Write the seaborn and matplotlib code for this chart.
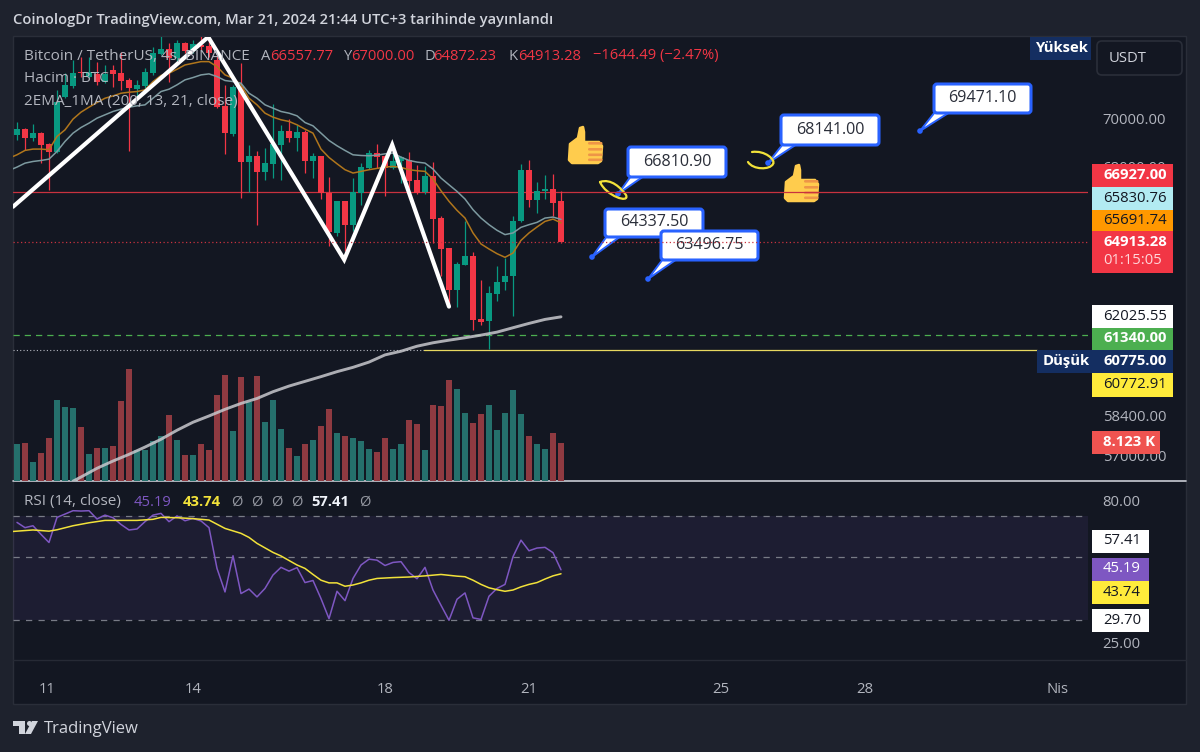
import numpy as np
import pandas as pd
import matplotlib
matplotlib.use('Agg')
import matplotlib.pyplot as plt
import seaborn as sns
from matplotlib.patches import FancyBboxPatch, Polygon, Rectangle, Circle, PathPatch
from matplotlib.path import Path

# 4h candles, oldest first
candle_open = [69322,69575,69168,69392,68930,68594,70960,71427,72053,71834,71936,71615,72126,72009,71689,71281,71427,71980,72835,73042,72641,73340,72984,73236,73206,72567,70560,69364,71398,68174,68440,67748,68104,68902,69490,69182,
               69421,68232,68411,66899,65286,66561,65604,66921,67928,68549,68411,67928,68204,68245,67445,66926,67611,65884,64691,63067,64037,64388,61947,61860,62915,63350,63584,65750,67832,66630,66980,67060,66557.77]
candle_high = [69888,69604,69775,69462,68972,71252,71980,72567,72716,72716,72492,72345,72345,72939,71761,71689,72199,73161,73682,73310,73459,73385,73459,73682,73608,72865,71471,71471,72418,68902,68622,68762,70645,69747,69990,69747,
               69534,68549,68411,67555,66561,66561,67514,68135,68690,68944,68480,68549,68411,68591,68066,67997,68163,65951,64691,64128,65776,64518,63454,63194,63974,64297,65951,68108,68246,67335,67652,67680,67000]
candle_low = [69112,68664,69042,68132,67007,68552,70888,71325,71834,71761,71471,71542,71398,71252,68622,70817,71324,71907,72790,71615,72492,72865,72865,73012,72716,70459,68524,69280,66693,66924,65617,67420,67515,67420,69000,68622,
              67721,67514,66669,64787,65154,64558,65354,66426,67886,67928,66791,67886,67307,66696,66872,66872,64890,63584,62430,62405,64011,61547,61710,60800,62647,63067,62049,65710,66336,66094,66656,65951,64872.23]
candle_close = [69575,69182,69392,68902,68594,70746,71471,72009,71980,72053,71615,71936,71951,71660,71324,71471,72053,72865,73042,72641,73340,72984,73266,73161,72865,70531,69392,71369,68174,68412,67748,68132,68944,69490,69182,69434,
                68232,68411,66899,65313,66561,65604,66939,67956,68549,68370,67928,68232,68384,67404,66899,67611,65856,64664,63042,64076,64388,61922,61835,62940,63376,63584,65763,67832,66630,66980,67060,66495,64913.28]
volume = [7766,8119,4095,5930,9107,17085,15744,15391,11508,5719,7060,7060,7484,16873,23651,6495,6495,8472,9602,13908,8754,5577,5577,7766,6495,18144,22451,10519,21957,16732,22310,12426,17085,11084,7060,5366,
          7907,8613,11720,15250,10237,9460,9107,8401,6707,6142,9178,6848,7907,12990,12073,6495,16167,15814,21392,19415,14473,12284,14120,16167,10872,14473,19344,14261,9531,7766,6848,10237,8123]
ema13 = [68340,68482,68664,68720,68720,68692,69252,69532,69990,70288,70503,70703,70889,70989,71106,71150,71179,71252,71615,71880,71980,72155,72345,72418,72492,72492,72272,71907,71761,71471,70889,70603,70245,70074,69961,69890,69747,
         69562,69393,68718,68370,68107,67859,67721,67790,67859,67914,67969,67997,67955,67859,67818,67790,67473,66993,66561,66195,65884,65287,64850,64650,64466,64323,64492,64993,65287,65525,65750,65843,65691.74]
ema21 = [67830,67968,68132,68202,68244,68300,68622,69042,69392,69632,69818,70031,70174,70317,70417,70503,70560,70603,70889,71179,71281,71471,71689,71790,71907,71951,71834,71660,71615,71542,71106,70889,70603,70460,70317,70245,70131,
         69844,69703,69393,69083,68859,68662,68480,68452,68439,68466,68521,68549,68383,68245,68176,68135,67887,67514,67238,66966,66655,66222,65884,65618,65393,65221,65287,65512,65618,65711,65884,65924,65830.76]
ma200_idx = [7,8,10,12,14,16,18,20,22,24,26,28,30,32,34,36,38,40,42,44,46,48,50,52,54,56,58,60,62,64,66,68]
ma200 = [56100,56242,56543,56795,57027,57281,57554,57873,58157,58380,58617,58829,59007,59252,59456,59628,59800,59982,60141,60334,60600,60736,60922,61050,61148,61238,61336,61449,61614,61777,61928,62025.55]
rsi = [66.6,63.8,64.8,60.4,56.5,69.4,71.3,73.3,73.1,73.3,68.5,70.7,69.2,65.5,62.6,63.1,67.0,70.7,71.7,67.0,70.2,67.5,68.8,67.4,63.8,45.7,37.7,50.7,37.2,38.6,36.2,38.8,43.3,46.1,44.7,46.0,
       40.7,41.4,35.7,30.3,37.9,35.1,42.1,47.0,49.3,48.9,46.8,48.0,48.3,44.2,42.0,46.1,38.3,33.8,29.9,35.5,37.4,30.5,30.1,36.4,38.8,40.1,50.3,57.6,52.8,54.0,54.3,52.0,45.19]
rsi_ma_idx = [-1,0,2,4,5,7,9,11,13,15,17,18,20,22,24,26,28,29,30,32,33,35,36,37,38,39,40,41,42,43,44,45,47,49,51,53,55,56,57,58,59,60,61,62,63,64,65,66,67,68]
rsi_ma = [61.7,62.0,62.6,62.0,62.7,64.8,66.4,67.7,67.7,67.7,68.3,69.4,69.2,68.7,67.9,63.4,60.9,58.9,56.1,52.1,50.6,47.0,45.7,43.5,41.5,40.6,40.6,39.5,39.9,40.6,41.5,42.1,42.4,42.6,43.0,43.5,42.9,42.7,41.5,40.1,39.0,38.4,37.9,38.3,39.3,40.1,40.7,41.9,43.0,43.74]
zigzag_idx = [-0.5,23.9,40.9,46.9,54]
zigzag = [66341,73591,64230,68898,62415]

day_ticks = [3.7,22,46,64,88,106,130]
day_labels = ['11','14','18','21','25','28','Nis']
price_ticks = [70000,68000,58400,57000]
rsi_ticks = [80,25]

BG = '#1e222d'
PANE = '#131722'
GREEN = '#089981'
RED = '#f23645'
TEXT = '#b2b5be'
FONT = 'Open Sans'
TICK = 10.7

sns.set_theme(style="dark", rc={'axes.grid': False})
plt.rcParams['font.family'] = [FONT, 'DejaVu Sans']

df = pd.DataFrame({'idx': np.arange(len(candle_open)), 'open': candle_open, 'high': candle_high,
                   'low': candle_low, 'close': candle_close, 'volume': volume})
df['side'] = np.where(df['close'] >= df['open'], 'up', 'down')


def px_axes(fig, x0, y0, x1, y1, zorder):
    # axes from pixel box, y measured from the top of the picture
    ax = fig.add_axes([x0 / 1200, 1 - y1 / 752, (x1 - x0) / 1200, (y1 - y0) / 752], zorder=zorder)
    ax.patch.set_alpha(0)
    for s in ax.spines.values():
        s.set_visible(False)
    return ax


fig = plt.figure(figsize=(12, 7.52), dpi=100, facecolor=BG)
xlim = (-0.5, 133.875)

# full picture layers for the drawing tools and the labels, in pixels
under = px_axes(fig, 0, 0, 1200, 752, 0)
under.set_xlim(0, 1200)
under.set_ylim(752, 0)
under.axis('off')
top = px_axes(fig, 0, 0, 1200, 752, 10)
top.set_xlim(0, 1200)
top.set_ylim(752, 0)
top.axis('off')

under.add_patch(Rectangle((13, 36), 1173, 668, fc=PANE, ec='#2a2e39', lw=1))
under.plot([13, 1186], [481, 481], color='#c9ccd4', lw=1.2)
under.plot([13, 1186], [660, 660], color='#262a35', lw=1)

# volume pane, hue would widen the bars so they get recoloured afterwards
ax_vol = px_axes(fig, 13, 37, 1088, 481, 1)
sns.barplot(data=df, x='idx', y='volume', native_scale=True, width=0.8, color='#25706c',
            saturation=1, linewidth=0, edgecolor='none', ax=ax_vol)
for bar, side in zip(ax_vol.patches, df['side']):
    bar.set_facecolor('#25706c' if side == 'up' else '#8f3a41')
ax_vol.set_xlim(xlim)
ax_vol.set_ylim(0, 94000)
ax_vol.set_xticks([])
ax_vol.set_yticks([])
ax_vol.set_xlabel('')
ax_vol.set_ylabel('')

# price pane
ax = px_axes(fig, 13, 37, 1088, 481, 3)
ax.set_yscale('log')
ax.set_xlim(xlim)
ax.set_ylim(56106, 73591)

ax.axhline(66927, color='#c8323f', lw=0.9, zorder=1)
ax.axhline(64913.28, color='#c8323f', lw=0.9, ls=(0, (1, 2)), zorder=6)
ax.axhline(61340, color='#4caf50', lw=0.9, ls=(0, (5, 4)), zorder=1)
ax.plot([xlim[0], 50.9], [60775, 60775], color='#b2b5be', lw=0.8, ls=(0, (1, 2)), zorder=1)
ax.plot([50.9, 127.5], [60772.91, 60772.91], color='#e8d860', lw=0.9, zorder=1)

colors = df['side'].map({'up': GREEN, 'down': RED})
ax.vlines(df['idx'], df['low'], df['high'], colors=colors, lw=0.9, zorder=2)
ax.bar(df['idx'], (df['close'] - df['open']).abs(), bottom=df[['open', 'close']].min(axis=1),
       width=0.76, color=colors, linewidth=0, edgecolor='none', zorder=3)

ema_idx = np.arange(-1, len(candle_open))
sns.lineplot(x=ema_idx, y=ema13, color='#b0761c', lw=1.1, ax=ax, zorder=4)
sns.lineplot(x=ema_idx, y=ema21, color='#7d9aa0', lw=1.1, ax=ax, zorder=4)
sns.lineplot(x=ma200_idx, y=ma200, color='#c8c8cd', lw=2.1, alpha=0.85, ax=ax, zorder=4)
sns.lineplot(x=zigzag_idx, y=zigzag, color='white', lw=3.0, ax=ax, zorder=5, solid_joinstyle='miter')

ax.set_xticks([])
ax.minorticks_off()
ax.yaxis.tick_right()
ax.set_yticks(price_ticks)
ax.set_yticklabels([f'{v:.2f}' for v in price_ticks])
ax.yaxis.set_minor_locator(matplotlib.ticker.NullLocator())
ax.tick_params(axis='y', length=0, pad=10.5, labelsize=TICK, labelcolor=TEXT)
ax.set_xlabel('')
ax.set_ylabel('')

# rsi pane
ax_rsi = px_axes(fig, 13, 482, 1088, 660, 3)
ax_rsi.set_yscale('log')
ax_rsi.set_xlim(xlim)
ax_rsi.set_ylim(21.6, 92.7)
ax_rsi.axhspan(30, 70, color='#7e57c2', alpha=0.1, lw=0, zorder=0)
for level in [70, 50, 30]:
    ax_rsi.axhline(level, color='#787b86', lw=0.9, ls=(0, (5, 5)), zorder=1)
sns.lineplot(x=df['idx'], y=rsi, color='#7e57c2', lw=1.1, ax=ax_rsi, zorder=3)
sns.lineplot(x=rsi_ma_idx, y=rsi_ma, color='#f2e23a', lw=1.1, ax=ax_rsi, zorder=4)
ax_rsi.yaxis.tick_right()
ax_rsi.set_yticks(rsi_ticks)
ax_rsi.set_yticklabels([f'{v:.2f}' for v in rsi_ticks])
ax_rsi.yaxis.set_minor_locator(matplotlib.ticker.NullLocator())
ax_rsi.tick_params(axis='y', length=0, pad=10.5, labelsize=TICK, labelcolor=TEXT)
ax_rsi.set_xticks(day_ticks)
ax_rsi.set_xticklabels(day_labels)
ax_rsi.tick_params(axis='x', length=0, pad=15.5, labelsize=TICK, labelcolor=TEXT)
ax_rsi.set_xlabel('')
ax_rsi.set_ylabel('')


def label(x, y, s, color=TEXT, size=TICK, weight='normal', ha='left', layer=top):
    layer.text(x, y, s, color=color, fontsize=size, fontweight=weight, ha=ha, va='center', family=[FONT, 'DejaVu Sans'])


def tag(y0, y1, s, bg, fg, weight='normal', x0=1092, x1=1173, off=11):
    top.add_patch(Rectangle((x0, y0), x1 - x0, y1 - y0, fc=bg, ec='none', zorder=2))
    label(x0 + off, (y0 + y1) / 2 - 0.5, s, fg, weight=weight)


def callout(x0, y0, x1, y1, s, tip, b0, b1):
    blue = '#2962ff'
    under.add_patch(Polygon([(b0, y1 - 1), tip, (b1, y1 - 1)], fc='white', ec=blue, lw=1.4, zorder=3))
    under.add_patch(FancyBboxPatch((x0, y0), x1 - x0, y1 - y0, boxstyle='round,pad=0,rounding_size=3',
                                   fc='white', ec=blue, lw=2.2, zorder=4))
    under.add_patch(Circle(tip, 2.8, fc=blue, ec='none', zorder=5))
    under.text((x0 + x1) / 2, (y0 + y1) / 2 - 0.5, s, color='#2a2e39', fontsize=11.6, ha='center', va='center', zorder=6)


def thumb(x, y):
    yellow = '#ffcc4d'
    under.add_patch(Polygon([(x + 2, y + 18), (x + 10, y + 12), (x + 12, y + 2), (x + 15, y + 1), (x + 16, y + 6), (x + 16, y + 16),
                             (x + 31, y + 16), (x + 34, y + 20), (x + 33, y + 35), (x + 30, y + 37), (x + 4, y + 37), (x + 1, y + 34)],
                            fc=yellow, ec=yellow, lw=1.8, zorder=3, joinstyle='round'))
    for fy in [16, 22, 27.5, 32.5]:
        under.add_patch(FancyBboxPatch((x + 20, y + fy), 14.5, 2.6, boxstyle='round,pad=0,rounding_size=1.3',
                                       fc='#ee9547', ec='none', zorder=4))


def scribble(pts):
    # two cubic pieces, a rough pen stroke
    codes = [Path.MOVETO] + [Path.CURVE4] * (len(pts) - 1)
    under.add_patch(PathPatch(Path(pts, codes), fc='none', ec='#f2e23a', lw=1.6, zorder=6, capstyle='round'))


callout(628, 147, 726, 177, '66810.90', (618, 194), 631, 644)
callout(781, 115, 879, 145, '68141.00', (768, 163), 783, 797)
callout(934, 84, 1031, 113, '69471.10', (920, 131), 935, 950)
callout(605, 209, 703, 237, '64337.50', (592, 257), 607, 621)
callout(661, 231, 758, 260, '63496.75', (648, 279), 663, 677)
thumb(568, 126)
thumb(784, 164)

# hand drawn marks round two of the notes
scribble([(600, 182), (611, 178), (621, 188), (626, 195), (630, 204), (606, 196), (600, 182)])
scribble([(752, 152), (765, 150), (776, 160), (773, 164), (770, 170), (753, 170), (748, 162)])

# header and legends
label(13, 20, 'CoinologDr TradingView.com, Mar 21, 2024 21:44 UTC+3 tarihinde yayınlandı', '#d1d4dc', size=10.6, weight='semibold')
label(24, 56, 'Bitcoin / TetherUS, 4s, BINANCE', TEXT, size=11)
for x, s in [(261, 'A'), (343, 'Y'), (424, 'D'), (508, 'K')]:
    label(x, 56, s, TEXT, size=10.6)
for x, s in [(270, '66557.77'), (351, '67000.00'), (433, '64872.23'), (518, '64913.28'), (593, '−1644.49 (−2.47%)')]:
    label(x, 56, s, RED, size=10.6)
label(24, 78, 'Hacim · BTC', TEXT, size=11)
label(24, 102, '2EMA_1MA (200, 13, 21, close)', TEXT, size=11)
label(24, 502, 'RSI (14, close)', TEXT, size=11)
label(134, 502, '45.19', '#7e57c2', size=10.6)
label(183, 502, '43.74', '#f2e23a', size=10.6, weight='bold')
for x in [231, 251, 271, 291, 359]:
    label(x, 502, 'Ø', '#9598a1', size=10.6)
label(311, 502, '57.41', '#f0f3fa', size=10.6, weight='bold')

# price scale tags
tag(164, 187, '66927.00', RED, 'white', 'bold')
tag(187, 210, '65830.76', '#b2ebf2', '#131722')
tag(210, 231, '65691.74', '#ff9800', '#131722')
top.add_patch(Rectangle((1092, 231), 81, 42, fc=RED, ec='none', zorder=2))
label(1103, 242, '64913.28', 'white', weight='bold')
label(1103, 261, '01:15:05', '#ffd6d9')
tag(305, 328, '62025.55', 'white', '#131722')
tag(328, 350, '61340.00', '#4caf50', 'white', 'bold')
tag(350, 373, '60775.00', '#142e61', 'white', 'bold')
tag(373, 397, '60772.91', '#ffeb3b', '#131722')
tag(431, 454, '8.123 K', '#ef5350', 'white', 'bold', x1=1160)
tag(37, 60, 'Yüksek', '#142e61', 'white', 'bold', x0=1030, x1=1091, off=5)
tag(350, 373, 'Düşük', '#142e61', 'white', 'bold', x0=1037, x1=1092, off=6)
tag(530, 553, '57.41', 'white', '#131722', x1=1149)
tag(558, 581, '45.19', '#7e57c2', 'white', x1=1149)
tag(581, 604, '43.74', '#ffeb3b', '#131722', x1=1149)
tag(609, 632, '29.70', 'white', '#131722', x1=1149)

top.add_patch(FancyBboxPatch((1097, 41), 85, 34, boxstyle='round,pad=0,rounding_size=5', fc=PANE, ec='#2a2e39', lw=1.2))
label(1109, 58, 'USDT', '#d1d4dc', size=10.7)

# footer logo
for pts in [[(13, 721), (25, 721), (25, 734), (19, 734), (19, 726), (13, 726)],
            [(38, 721), (31, 734), (25, 734), (32, 721)]]:
    top.add_patch(Polygon(pts, fc='#d1d4dc', ec='none'))
top.add_patch(Circle((29.5, 723.5), 2.5, fc='#d1d4dc', ec='none'))
label(44, 729, 'TradingView', '#d1d4dc', size=12)

fig.savefig('out.png', dpi=100, facecolor=BG)
